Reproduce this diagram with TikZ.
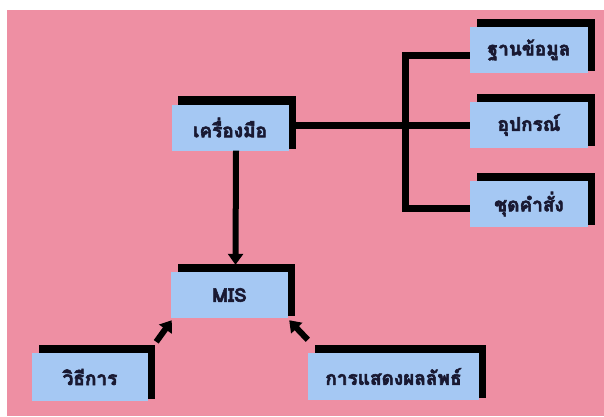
\documentclass[tikz,border=0pt]{standalone}
\usepackage{fontspec}
\newfontfamily\thaifont[Script=Thai, BoldFeatures={FakeBold=3}]{Loma}
\usetikzlibrary{arrows.meta}
\definecolor{bgpink}{RGB}{238,143,163}
\definecolor{boxblue}{RGB}{165,200,243}
\definecolor{txtnavy}{RGB}{25,25,50}
\pgfdeclarelayer{back}
\pgfdeclarelayer{shade}
\pgfsetlayers{back,shade,main}
\tikzset{
  boxnode/.style={fill=boxblue, draw=none, inner sep=0pt, minimum height=46pt,
    minimum width=117pt, font=\thaifont\bfseries\fontsize{19}{21}\selectfont, text=txtnavy},
  conn/.style={line width=7pt, draw=black},
  arr/.style={line width=6pt, draw=black, -{Triangle[length=11pt,width=15pt]}},
}
\newcommand{\boxshade}[1]{%
  \begin{pgfonlayer}{shade}
    \fill[black] ([shift={(7pt,8pt)}]#1.north west) rectangle ([shift={(7pt,2pt)}]#1.south east);
  \end{pgfonlayer}}
\begin{document}
\begin{tikzpicture}[x=1pt,y=-1pt]
\useasboundingbox (0,0) rectangle (604,416);
\begin{pgfonlayer}{back}
  \fill[white] (0,0) rectangle (604,416);
  \fill[bgpink] (7,10) rectangle (604,416);
\end{pgfonlayer}
% nodes
\node[boxnode] (tool) at (230,127.5) {เครื่องมือ};
\node[boxnode, minimum width=118pt] (db) at (529,50) {ฐานข้อมูล};
\node[boxnode, minimum width=118pt] (dev) at (529,125) {อุปกรณ์};
\node[boxnode, minimum width=118pt] (prog) at (529,204) {ชุดคำสั่ง};
\node[boxnode] (mis) at (229.5,295) {MIS};
\node[boxnode, minimum width=116pt, minimum height=48pt] (method) at (90,377) {วิธีการ};
\node[boxnode, minimum width=171pt, minimum height=47pt] (result) at (393.5,376.5) {การแสดงผลลัพธ์};
\boxshade{tool}
\boxshade{db}
\boxshade{dev}
\boxshade{prog}
\boxshade{mis}
\boxshade{method}
\boxshade{result}
% connectors
\coordinate (vtop) at (405,55);
\coordinate (vbot) at (405,208);
\draw[conn] ([xshift=7pt]tool.east |- dev.west) -- (dev.west);
\draw[conn] ([yshift=-5pt]db.west) -- (vtop) -- (vbot) -- ([yshift=-4pt]prog.west);
\draw[arr] ([xshift=6pt]tool.south) -- ([xshift=6pt,yshift=7pt]mis.north);
\draw[arr] ([shift={(8pt,11pt)}]method.north east) -- ([shift={(1pt,-2pt)}]mis.south west);
\draw[arr] ([yshift=13pt]result.north west) -- ([shift={(1pt,-2pt)}]mis.south east);
\end{tikzpicture}
\end{document}
